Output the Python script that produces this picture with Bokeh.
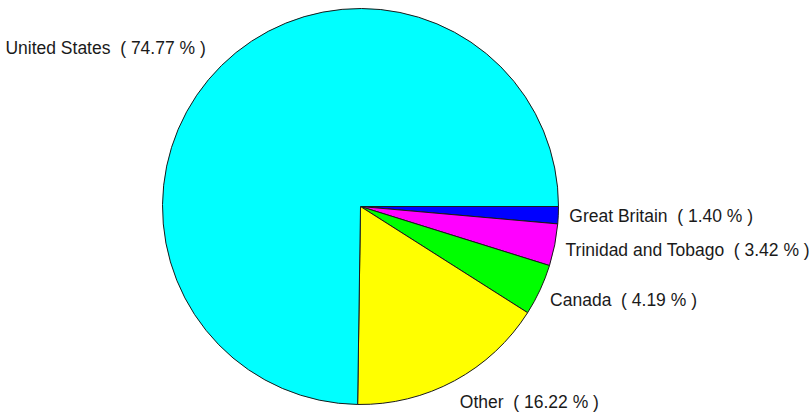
import math
from bokeh.plotting import figure
from bokeh.models import Range1d, ColumnDataSource
from bokeh.core.properties import value
from bokeh.embed import file_html
from bokeh.resources import INLINE

countries = ["Great Britain", "Trinidad and Tobago", "Canada", "Other", "United States"]
shares = [1.40, 3.42, 4.19, 16.22, 74.77]
colors = ["#0000FF", "#FF00FF", "#00FF00", "#FFFF00", "#00FFFF"]

W, H = 809, 416
p = figure(width=W, height=H, output_backend="svg", toolbar_location=None,
           x_range=Range1d(0, W), y_range=Range1d(0, H),
           min_border=0)
p.axis.visible = False
p.grid.visible = False
p.outline_line_color = None
p.background_fill_color = "white"
p.border_fill_color = "white"

cx, cy, R = 360, 210, 198
total = sum(shares)
starts, ends, mids = [], [], []
acc = 0.0
for s in shares:
    a0 = -2 * math.pi * acc / total
    acc += s
    a1 = -2 * math.pi * acc / total
    starts.append(a0)
    ends.append(a1)
    mids.append((a0 + a1) / 2)

src = ColumnDataSource(dict(start=starts, end=ends, color=colors))
p.wedge(x=cx, y=cy, radius=R, start_angle="start", end_angle="end",
        direction="clock", fill_color="color", line_color="#1a1a1a", line_width=1,
        source=src)

NB = "\u00a0"
lx, ly, lt, la = [], [], [], []
rl = R + 11
for c, s, m in zip(countries, shares, mids):
    right = math.cos(m) > 0
    lx.append(cx + rl * math.cos(m) + (0 if right else -8))
    ly.append(cy + (rl + 13) * math.sin(m))
    lt.append(f"{c}{NB}{NB}({NB}{s:.2f}{NB}%{NB})")
    la.append("left" if right else "right")

p.text(x=lx, y=ly, text=lt, text_align=la, text_baseline="middle",
       text_font=value("Liberation Sans"), text_font_size="17.5px", text_color="#1a1a1a")

open("out.html", "w").write(file_html(p, INLINE))
